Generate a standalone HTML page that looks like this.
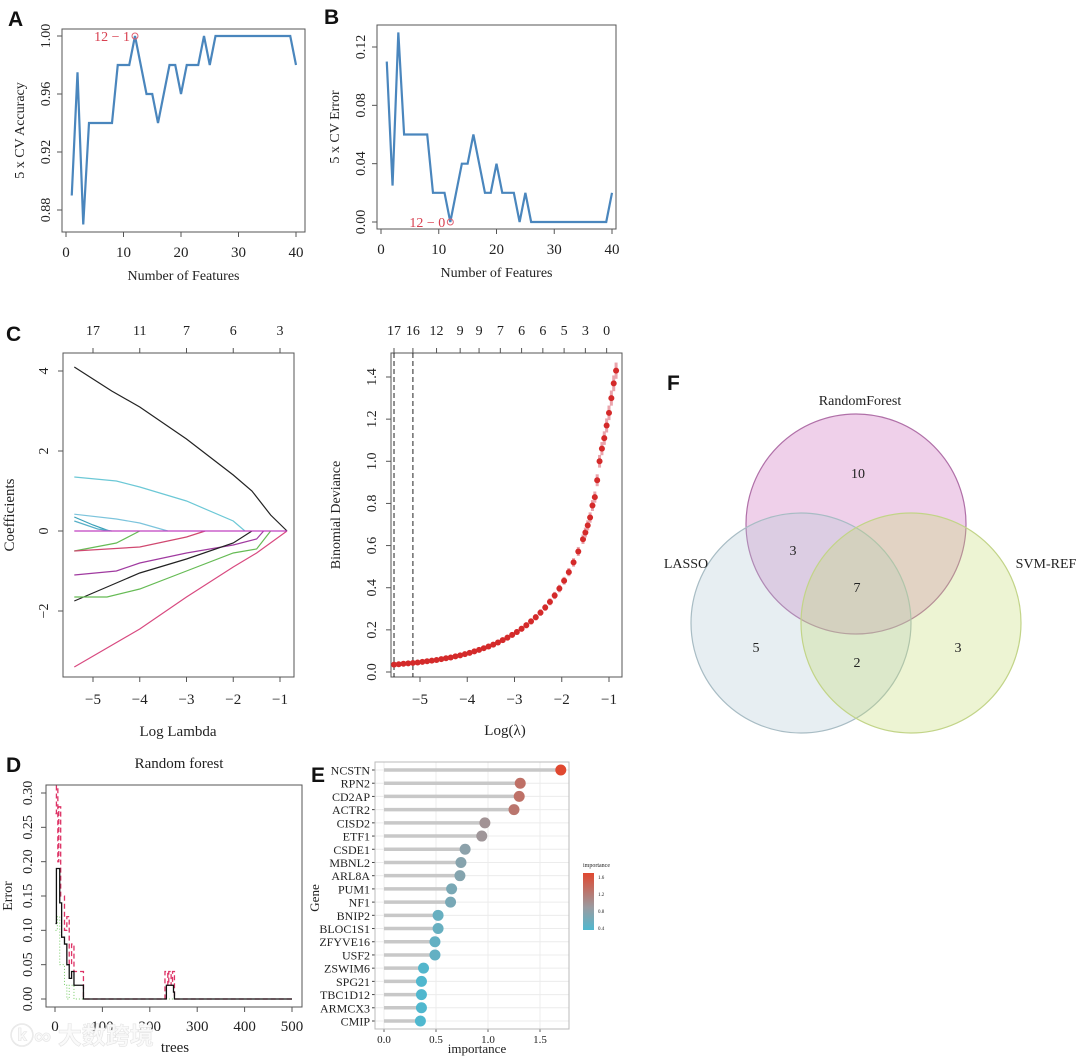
<!DOCTYPE html>
<html><head><meta charset="utf-8"><style>
html,body{margin:0;padding:0;background:#fff;}
svg{display:block;}
text{font-family:"Liberation Serif",serif;fill:#222;}
.lab{font-family:"Liberation Sans",sans-serif;font-weight:bold;font-size:21px;fill:#111;}
</style></head><body>
<svg id="fig" width="1080" height="1057" viewBox="0 0 1080 1057" xmlns="http://www.w3.org/2000/svg"></svg>
<script>
// ---------- data ----------
const featA = [1,2,3,4,5,6,7,8,9,10,11,12,13,14,15,16,17,18,19,20,21,22,23,24,25,26,27,28,29,30,31,32,33,34,35,36,37,38,39,40];
const accA = [0.89,0.975,0.87,0.94,0.94,0.94,0.94,0.94,0.98,0.98,0.98,1.0,0.98,0.96,0.96,0.94,0.96,0.98,0.98,0.96,0.98,0.98,0.98,1.0,0.98,1,1,1,1,1,1,1,1,1,1,1,1,1,1,0.98];
const errB = [0.11,0.025,0.13,0.06,0.06,0.06,0.06,0.06,0.02,0.02,0.02,0.0,0.02,0.04,0.04,0.06,0.04,0.02,0.02,0.04,0.02,0.02,0.02,0,0.02,0,0,0,0,0,0,0,0,0,0,0,0,0,0,0.02];
const ticksX40 = [0,10,20,30,40];
const ticksA = [0.88,0.92,0.96,1.00];
const ticksB = [0.00,0.04,0.08,0.12];

const coefPaths = [
 {c:"#222", p:[[-5.4,4.1],[-4.6,3.5],[-4,3.1],[-3,2.3],[-2,1.4],[-1.6,1.0],[-1.2,0.4],[-0.85,0]]},
 {c:"#6cc8d6", p:[[-5.4,1.35],[-4.5,1.25],[-4,1.1],[-3,0.75],[-2,0.25],[-1.75,0]]},
 {c:"#7cc4dc", p:[[-5.4,0.42],[-4.5,0.3],[-4,0.2],[-3.4,0]]},
 {c:"#3aa0b8", p:[[-5.4,0.35],[-5,0.15],[-4.65,0]]},
 {c:"#58b0c8", p:[[-5.4,0.25],[-4.9,0.05],[-4.6,0]]},
 {c:"#66bb55", p:[[-5.4,-0.5],[-4.5,-0.3],[-4,0]]},
 {c:"#d04870", p:[[-5.4,-0.5],[-4,-0.4],[-3,-0.15],[-2.6,0]]},
 {c:"#a03aa0", p:[[-5.4,-1.1],[-4.5,-1.0],[-4,-0.8],[-3,-0.55],[-2,-0.35],[-1.5,-0.2],[-1.35,0]]},
 {c:"#222", p:[[-5.4,-1.75],[-4.6,-1.35],[-4,-1.05],[-3,-0.7],[-2,-0.3],[-1.6,0]]},
 {c:"#66bb55", p:[[-5.4,-1.65],[-4.7,-1.65],[-4,-1.45],[-3,-1.0],[-2,-0.55],[-1.5,-0.45],[-1.2,0]]},
 {c:"#d84a80", p:[[-5.4,-3.4],[-4,-2.45],[-3,-1.65],[-2,-0.9],[-1.5,-0.55],[-0.85,0]]},
 {c:"#c040c0", p:[[-5.4,0],[-0.85,0]]}
];
const ticksLog = [-5,-4,-3,-2,-1];
const topCountsL = [17,11,7,6,3];
const ticksCoef = [-2,0,2,4];
const lamR = [-5.55,-5.45,-5.35,-5.25,-5.15,-5.05,-4.95,-4.85,-4.75,-4.65,-4.55,-4.45,-4.35,-4.25,-4.15,-4.05,-3.95,-3.85,-3.75,-3.65,-3.55,-3.45,-3.35,-3.25,-3.15,-3.05,-2.95,-2.85,-2.75,-2.65,-2.55,-2.45,-2.35,-2.25,-2.15,-2.05,-1.95,-1.85,-1.75,-1.65,-1.55,-1.5,-1.45,-1.4,-1.35,-1.3,-1.25,-1.2,-1.15,-1.1,-1.05,-1.0,-0.95,-0.9,-0.85];
const devR = [0.035,0.037,0.039,0.041,0.043,0.045,0.048,0.051,0.054,0.057,0.061,0.065,0.069,0.074,0.079,0.085,0.091,0.098,0.105,0.113,0.121,0.130,0.140,0.151,0.163,0.176,0.190,0.205,0.222,0.240,0.260,0.282,0.306,0.333,0.363,0.396,0.433,0.474,0.520,0.572,0.630,0.662,0.696,0.733,0.790,0.830,0.910,1.000,1.060,1.110,1.170,1.230,1.300,1.370,1.430];
const ticksDev = [0.0,0.2,0.4,0.6,0.8,1.0,1.2,1.4];
const topCountsR = ["17","16","12","9","9","7","6","6","5","3","0"];
const topLamR = [-5.55,-5.15,-4.65,-4.15,-3.75,-3.3,-2.85,-2.4,-1.95,-1.5,-1.05];
const vlines = [-5.55,-5.15];

const rfBlack = [[1,0.11],[3,0.19],[8,0.19],[10,0.14],[14,0.09],[20,0.08],[25,0.05],[30,0.03],[35,0.04],[40,0.02],[60,0.02],[60,0],[230,0],[235,0.02],[245,0.02],[250,0.01],[252,0],[500,0]];
const rfRed = [[1,0.27],[3,0.31],[6,0.2],[8,0.28],[12,0.15],[20,0.1],[25,0.12],[30,0.05],[35,0.08],[40,0.04],[58,0.04],[60,0],[230,0],[232,0.04],[238,0.02],[240,0.04],[245,0.02],[248,0.04],[252,0],[500,0]];
const rfGreen = [[1,0.1],[5,0.12],[10,0.05],[20,0.02],[25,0.0],[30,0.02],[40,0],[500,0]];
const ticksTrees = [0,100,200,300,400,500];
const ticksErr = [0.00,0.05,0.10,0.15,0.20,0.25,0.30];

const genes = ["NCSTN","RPN2","CD2AP","ACTR2","CISD2","ETF1","CSDE1","MBNL2","ARL8A","PUM1","NF1","BNIP2","BLOC1S1","ZFYVE16","USF2","ZSWIM6","SPG21","TBC1D12","ARMCX3","CMIP"];
const imp = [1.70,1.31,1.30,1.25,0.97,0.94,0.78,0.74,0.73,0.65,0.64,0.52,0.52,0.49,0.49,0.38,0.36,0.36,0.36,0.35];
const ticksImp = [0.0,0.5,1.0,1.5];
const legendTicks = [1.6,1.2,0.8,0.4];

const vennSets = ["RandomForest","LASSO","SVM-REF"];
const vennCounts = [10,3,7,5,2,3];

// ---------- helpers ----------
const S = document.getElementById('fig');
const NS = "http://www.w3.org/2000/svg";
function mk(tag, attrs, parent){const e=document.createElementNS(NS,tag);for(const k in attrs)e.setAttribute(k,attrs[k]);(parent||S).appendChild(e);return e;}
function txt(x,y,s,size,anchor,parent,extra){const t=mk('text',Object.assign({x:x,y:y,'font-size':size,'text-anchor':anchor||'middle'},extra||{}),parent);t.textContent=s;return t;}
function lin(d0,d1,r0,r1){return v=>r0+(v-d0)/(d1-d0)*(r1-r0);}

// panel labels
[["A",8,26],["B",324,24],["C",6,341],["D",6,772],["E",311,782],["F",667,390]].forEach(l=>{
 const t=txt(l[1],l[2],l[0],21,'start',S,{class:'lab'});
 
 
});

// ---------- A & B ----------
function linePanel(key, box, xs, ys, xr, yr, xt, yt, ylab, mark, markLab){
 const g=mk('g',{});
 
 
 const X=lin(xr[0],xr[1],box.xa,box.xb), Y=lin(yr[0],yr[1],box.ya,box.yb);
 const fr=mk('rect',{x:box.l,y:box.t,width:box.r-box.l,height:box.b-box.t,fill:'none',stroke:'#555','stroke-width':1},g);
 
 
 xt.forEach(v=>{mk('line',{x1:X(v),x2:X(v),y1:box.b,y2:box.b+5,stroke:'#555'},g);
  const t=txt(X(v),box.b+25,String(v),15,'middle',g);
  
  });
 yt.forEach(v=>{mk('line',{x1:box.l,x2:box.l-5,y1:Y(v),y2:Y(v),stroke:'#555'},g);
  const t=txt(box.l-12,Y(v),v.toFixed(2),14,'middle',g,{transform:`rotate(-90 ${box.l-12} ${Y(v)})`});
  
  });
 const pl=mk('polyline',{points:xs.map((x,i)=>X(x)+','+Y(ys[i])).join(' '),fill:'none',stroke:'#4a86bd','stroke-width':2.2},g);
 
 
 const c=mk('circle',{cx:X(mark[0]),cy:Y(mark[1]),r:3,fill:'none',stroke:'#e06070'},g);
 
 
 const ml=txt(X(mark[0])-5,Y(mark[1])+5,markLab,14,'end',g,{style:'fill:#d84050'});
 
 
 const xl=txt((box.l+box.r)/2,box.b+48,'Number of Features',14,'middle',g);
 
 
 const yl=txt(box.l-38,(box.t+box.b)/2,ylab,14,'middle',g,{transform:`rotate(-90 ${box.l-38} ${(box.t+box.b)/2})`});
 
 
}
linePanel('a',{l:62,r:305,t:29,b:232,xa:66,xb:296,ya:210,yb:36},featA,accA,[0,40],[0.88,1.00],ticksX40,ticksA,'5 x CV Accuracy',[12,1.0],'12 − 1');
linePanel('b',{l:377,r:616,t:25,b:229,xa:381,xb:612,ya:222,yb:47},featA,errB,[0,40],[0,0.12],ticksX40,ticksB,'5 x CV Error',[12,0],'12 − 0');

// ---------- C left ----------
(function(){
 const g=mk('g',{});
 
 
 const box={l:63,r:294,t:353,b:677};
 const X=lin(-5,-1,93,280), Y=lin(0,4,531,371);
 const fr=mk('rect',{x:box.l,y:box.t,width:box.r-box.l,height:box.b-box.t,fill:'none',stroke:'#555'},g);
 
 
 ticksLog.forEach((v,i)=>{mk('line',{x1:X(v),x2:X(v),y1:box.b,y2:box.b+5,stroke:'#555'},g);
  const t=txt(X(v),box.b+27,'−'+Math.abs(v),15,'middle',g);
  
  
  mk('line',{x1:X(v),x2:X(v),y1:box.t,y2:box.t-5,stroke:'#555'},g);
  const tt=txt(X(v),box.t-18,String(topCountsL[i]),14,'middle',g);
  
  });
 ticksCoef.forEach(v=>{mk('line',{x1:box.l,x2:box.l-5,y1:Y(v),y2:Y(v),stroke:'#555'},g);
  const s=v<0?'−'+Math.abs(v):String(v);
  const t=txt(box.l-15,Y(v),s,14,'middle',g,{transform:`rotate(-90 ${box.l-15} ${Y(v)})`});
  
  });
 coefPaths.forEach((cp,i)=>{
  const pl=mk('polyline',{points:cp.p.map(q=>X(q[0])+','+Y(q[1])).join(' '),fill:'none',stroke:cp.c,'stroke-width':1.2},g);
  
  
 });
 const xl=txt(178,736,'Log Lambda',15,'middle',g);
 
 
 const yl=txt(14,515,'Coefficients',15,'middle',g,{transform:'rotate(-90 14 515)'});
 
 
})();

// ---------- C right ----------
(function(){
 const g=mk('g',{});
 
 
 const box={l:391,r:622,t:353,b:677};
 const X=lin(-5,-1,420,609), Y=lin(0,1.4,672,377);
 const fr=mk('rect',{x:box.l,y:box.t,width:box.r-box.l,height:box.b-box.t,fill:'none',stroke:'#555'},g);
 
 
 ticksLog.forEach(v=>{mk('line',{x1:X(v),x2:X(v),y1:box.b,y2:box.b+5,stroke:'#555'},g);
  const t=txt(X(v),box.b+27,'−'+Math.abs(v),15,'middle',g);
  
  });
 topCountsR.forEach((s,i)=>{mk('line',{x1:X(topLamR[i]),x2:X(topLamR[i]),y1:box.t,y2:box.t-5,stroke:'#555'},g);
  const t=txt(X(topLamR[i]),box.t-18,s,14,'middle',g);
  
  });
 ticksDev.forEach(v=>{mk('line',{x1:box.l,x2:box.l-5,y1:Y(v),y2:Y(v),stroke:'#555'},g);
  const t=txt(box.l-15,Y(v),v.toFixed(1),14,'middle',g,{transform:`rotate(-90 ${box.l-15} ${Y(v)})`});
  
  });
 vlines.forEach(v=>{const l=mk('line',{x1:X(v),x2:X(v),y1:box.t,y2:box.b,stroke:'#222','stroke-dasharray':'5,3'},g);
  
  });
 lamR.forEach((l,i)=>{
  const e=0.01+devR[i]*0.02;
  const eb=mk('line',{x1:X(l),x2:X(l),y1:Y(devR[i]+e),y2:Y(devR[i]-e),stroke:'#eaa4ac','stroke-width':3},g);
  
  
  const c=mk('circle',{cx:X(l),cy:Y(devR[i]),r:3,fill:'#d42a2a'},g);
  
  
 });
 const xl=txt(505,735,'Log(λ)',15,'middle',g);
 
 
 const yl=txt(340,515,'Binomial Deviance',14,'middle',g,{transform:'rotate(-90 340 515)'});
 
 
})();

// ---------- D ----------
(function(){
 const g=mk('g',{});
 
 
 const box={l:46,r:302,t:785,b:1007};
 const X=lin(0,500,55,292), Y=lin(0,0.30,999,793);
 const fr=mk('rect',{x:box.l,y:box.t,width:box.r-box.l,height:box.b-box.t,fill:'none',stroke:'#555'},g);
 
 
 ticksTrees.forEach(v=>{mk('line',{x1:X(v),x2:X(v),y1:box.b,y2:box.b+5,stroke:'#555'},g);
  const t=txt(X(v),box.b+24,String(v),15,'middle',g);
  
  });
 ticksErr.forEach(v=>{mk('line',{x1:box.l,x2:box.l-5,y1:Y(v),y2:Y(v),stroke:'#555'},g);
  const t=txt(box.l-14,Y(v),v.toFixed(2),14,'middle',g,{transform:`rotate(-90 ${box.l-14} ${Y(v)})`});
  
  });
 function step(arr){let s='';arr.forEach((p,i)=>{if(i===0)s+=X(p[0])+','+Y(p[1]);else s+=' '+X(p[0])+','+Y(arr[i-1][1])+' '+X(p[0])+','+Y(p[1]);});return s;}
 const gl=mk('polyline',{points:step(rfGreen),fill:'none',stroke:'#77cc66','stroke-width':1,'stroke-dasharray':'1,2'},g);
 
 
 const rl=mk('polyline',{points:step(rfRed),fill:'none',stroke:'#dd3366','stroke-width':1.3,'stroke-dasharray':'5,3'},g);
 
 
 const bl=mk('polyline',{points:step(rfBlack),fill:'none',stroke:'#111','stroke-width':1.3},g);
 
 
 const tl=txt(179,768,'Random forest',15,'middle',g);
 
 
 const xl=txt(175,1052,'trees',15,'middle',g);
 
 
 const yl=txt(12,896,'Error',14,'middle',g,{transform:'rotate(-90 12 896)'});
 
 
 const wm=txt(10,1044,'ⓚ∞ 大数跨境',24,'start',g,{style:'fill:#fafafa;stroke:#e4e4e4;stroke-width:0.6;font-family:"Liberation Sans","Noto Sans CJK SC",sans-serif;font-weight:bold'});
 
 
})();

// ---------- E ----------
(function(){
 const g=mk('g',{});
 
 
 const box={l:375,r:569,t:762,b:1029};
 const X=lin(0,1.5,384,540);
 const rowY=i=>770+i*(1021-770)/(genes.length-1);
 ticksImp.forEach(v=>{mk('line',{x1:X(v),x2:X(v),y1:box.t,y2:box.b,stroke:'#ececec'},g);
  mk('line',{x1:X(v),x2:X(v),y1:box.b,y2:box.b+3,stroke:'#666'},g);
  const t=txt(X(v),box.b+14,v.toFixed(1),11,'middle',g);
  
  });
 function col(v){const t=Math.max(0,Math.min(1,(v-0.35)/(1.7-0.35)));
  const a=[79,184,207],m=[155,155,160],b=[224,72,48];
  let c;if(t<0.4){const u=t/0.4;c=a.map((x,k)=>x+(m[k]-x)*u);}else{const u=(t-0.4)/0.6;c=m.map((x,k)=>x+(b[k]-x)*u);}
  return 'rgb('+c.map(Math.round).join(',')+')';}
 genes.forEach((gn,i)=>{
  const y=rowY(i);
  mk('line',{x1:box.l,x2:box.r,y1:y,y2:y,stroke:'#ececec'},g);
  mk('line',{x1:box.l-3,x2:box.l,y1:y,y2:y,stroke:'#444'},g);
  const t=txt(box.l-5,y+4.5,gn,12,'end',g);
  
  
  const s=mk('line',{x1:X(0),x2:X(imp[i]),y1:y,y2:y,stroke:'#c8c8c8','stroke-width':3.5},g);
  
  
  const c=mk('circle',{cx:X(imp[i]),cy:y,r:5.5,fill:col(imp[i])},g);
  
  
 });
 const fr=mk('rect',{x:box.l,y:box.t,width:box.r-box.l,height:box.b-box.t,fill:'none',stroke:'#bbb'},g);
 
 
 const xl=txt(477,1053,'importance',13,'middle',g);
 
 
 const yl=txt(319,898,'Gene',13,'middle',g,{transform:'rotate(-90 319 898)'});
 
 
 const defs=mk('defs',{},g);
 const lg=mk('linearGradient',{id:'impg',x1:0,y1:1,x2:0,y2:0},defs);
 mk('stop',{offset:'0','stop-color':'#4fb8cf'},lg);
 mk('stop',{offset:'0.4','stop-color':'#9b9ba0'},lg);
 mk('stop',{offset:'1','stop-color':'#e04830'},lg);
 const lt=txt(583,867,'importance',6,'start',g);
 
 
 const lr=mk('rect',{x:583,y:873,width:11,height:57,fill:'url(#impg)'},g);
 
 
 const LY=lin(0.35,1.7,930,873);
 legendTicks.forEach(v=>{const t=txt(598,LY(v)+2,v.toFixed(1),5,'start',g);
  
  });
})();

// ---------- F Venn ----------
(function(){
 const g=mk('g',{});
 
 
 const circles=[[856,524,'rgba(205,110,190,0.32)','#b070a8'],[801,623,'rgba(175,198,212,0.3)','#a8bcc4'],[911,623,'rgba(195,218,110,0.3)','#c2d488']];
 circles.forEach((c,i)=>{const e=mk('circle',{cx:c[0],cy:c[1],r:110,fill:c[2],stroke:c[3],'stroke-width':1.2},g);
  
  });
 const setPos=[[860,405,'middle'],[686,568,'middle'],[1046,568,'middle']];
 vennSets.forEach((s,i)=>{const t=txt(setPos[i][0],setPos[i][1],s,14,setPos[i][2],g);
  
  });
 const cPos=[[858,478],[793,555],[857,592],[756,652],[857,667],[958,652]];
 vennCounts.forEach((n,i)=>{const t=txt(cPos[i][0],cPos[i][1],String(n),14,'middle',g);
  
  });
})();
</script>
</body></html>
